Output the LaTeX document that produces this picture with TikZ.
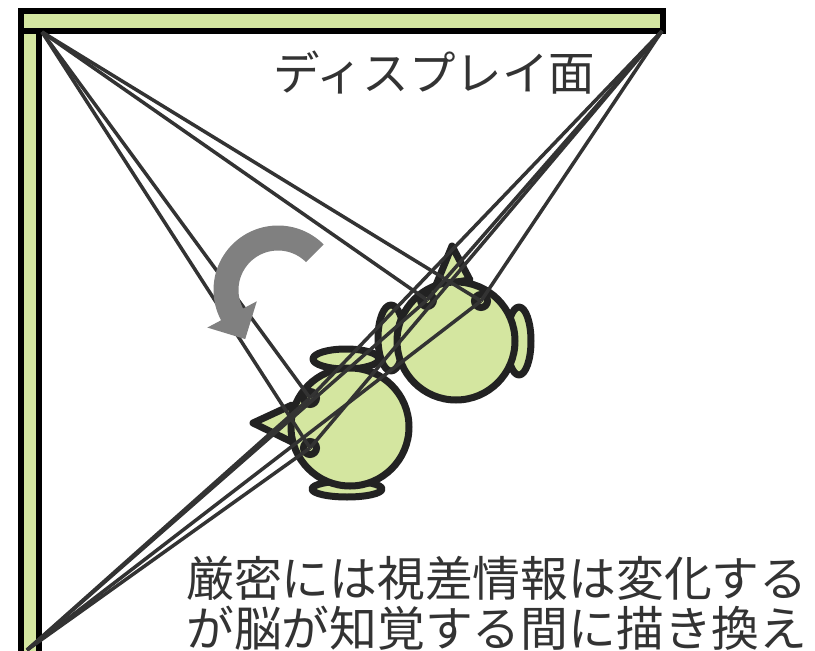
\documentclass[tikz,border=0pt]{standalone}
\usepackage{fontspec}
\newfontfamily\jp{Noto Sans CJK JP}
\definecolor{leaf}{HTML}{D4E6A0}
\definecolor{ink}{HTML}{333333}
\definecolor{outline}{HTML}{222222}
\definecolor{arrowgray}{HTML}{808080}

\begin{document}
\begin{tikzpicture}[x=1pt,y=-1pt,
  bar/.style={draw=black,fill=leaf,line width=6pt},
  skin/.style={draw=outline,fill=leaf,line width=7pt,line join=round},
  eyeball/.style={circle,draw=outline,fill=leaf,line width=7pt,minimum size=13pt,inner sep=0pt},
  sight/.style={draw=ink,line width=3.5pt},
  jtext/.style={text=ink,inner sep=0pt,anchor=base west}]
\useasboundingbox (0,0) rectangle (815,651);

% the two display panels (top and left)
\draw[bar] (21,31) rectangle (39,670);
\draw[bar] (21,11) rectangle (663,31);

% panel edge points the sight lines meet
\coordinate (A) at (42,32);
\coordinate (B) at (662,31);
\coordinate (C) at (27,650);

% head facing the top panel
\draw[skin] (391,338) ellipse [x radius=13, y radius=33];
\draw[skin] (519,341) ellipse [x radius=12, y radius=34];
\draw[skin] (452,246) -- (436,285) -- (470,280) -- cycle;
\draw[skin] (456,341) circle [radius=59];
\node[eyeball] (e1) at (427,300) {};
\node[eyeball] (e2) at (481,301) {};

% head turned toward the left panel
\draw[skin] (346,359) ellipse [x radius=33, y radius=10];
\draw[skin] (347,489) ellipse [x radius=35, y radius=8];
\draw[skin] (253,423) -- (292,405) -- (292,442) -- cycle;
\draw[skin] (350,427) circle [radius=59];
\node[eyeball] (e3) at (310,398) {};
\node[eyeball] (e4) at (310,448) {};

% sight lines from every eye to the panel edges
\foreach \e in {e1,e2,e3,e4}
  \foreach \c in {A,B,C}
    \draw[sight] (\c) -- (\e.center);

% turning arrow (centre 278,290; counter-clockwise)
\fill[arrowgray]
  plot[domain=45:208, samples=50] ({278+64.5*cos(\x)},{290-64.5*sin(\x)})
  -- ({278+80*cos(208)},{290-80*sin(208)})
  -- (245.2,339.1)
  -- ({278+24*cos(208)},{290-24*sin(208)})
  -- plot[domain=208:45, samples=50] ({278+39.5*cos(\x)},{290-39.5*sin(\x)})
  -- cycle;

% captions
\node[jtext, font={\jp\fontsize{46.5pt}{50pt}\selectfont}] (title) at (273,90) {ディスプレイ面};
\node[jtext, font={\jp\fontsize{47.8pt}{50pt}\selectfont}] (note1) at (186,596) {厳密には視差情報は変化する};
\node[jtext, font={\jp\fontsize{47.8pt}{50pt}\selectfont}] (note2) at (186,646) {が脳が知覚する間に描き換え};
\end{tikzpicture}
\end{document}
